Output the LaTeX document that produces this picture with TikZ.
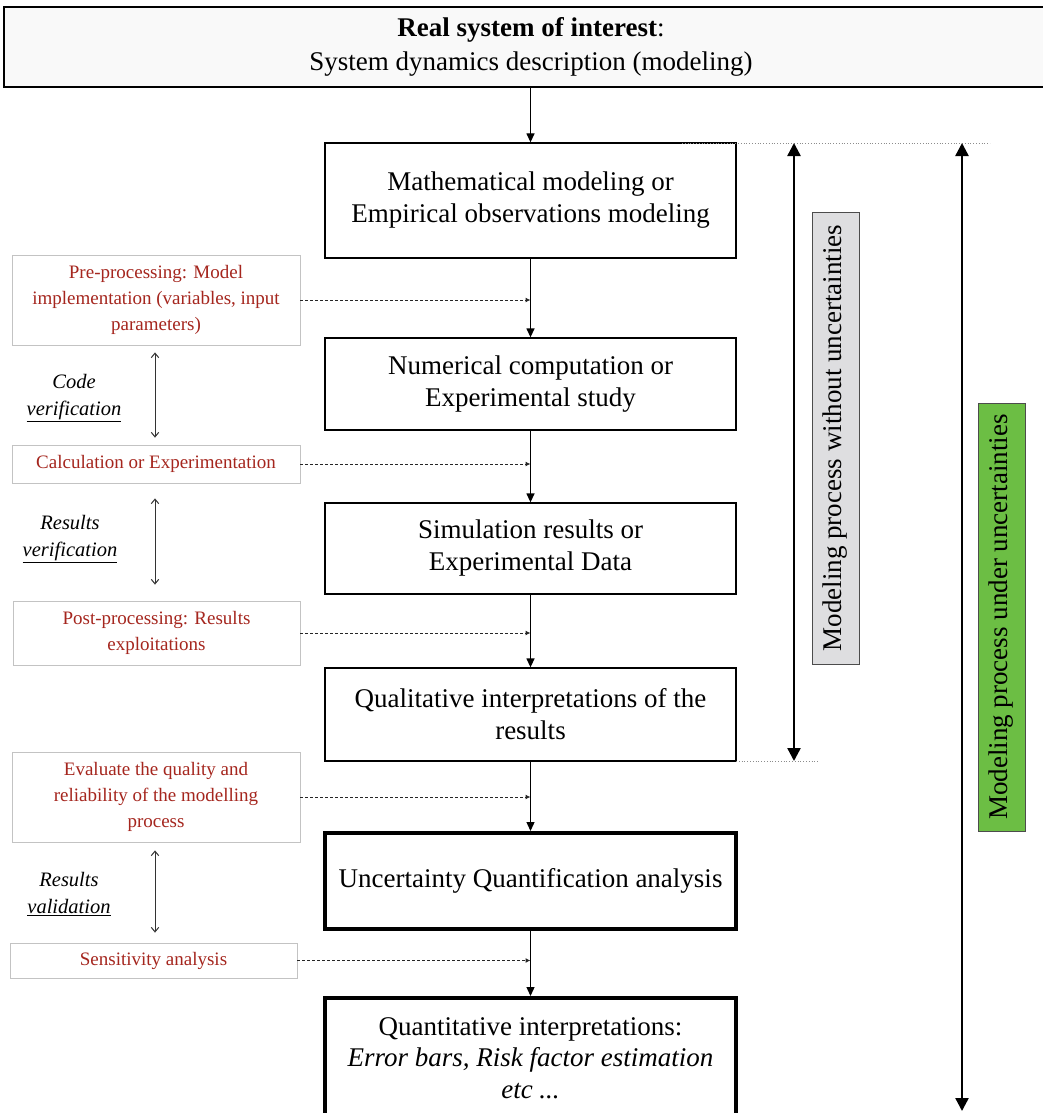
\documentclass[tikz,border=0pt]{standalone}
\usepackage{fontspec}
\setmainfont{Liberation Serif}
\usetikzlibrary{arrows.meta}
\definecolor{redtxt}{RGB}{165,38,30}
\definecolor{boxgray}{RGB}{195,195,195}
\definecolor{lblgray}{RGB}{222,222,224}
\definecolor{lblgreen}{RGB}{108,190,68}
\definecolor{topfill}{RGB}{249,249,249}
\begin{document}
\begin{tikzpicture}[x=1pt,y=-1pt,
 mainbox/.style={draw=black, line width=1.3pt, minimum width=411pt, inner sep=0pt, align=center, font=\fontsize{27}{32}\selectfont, fill=white},
 thickbox/.style={mainbox, line width=4pt},
 redbox/.style={draw=boxgray, line width=0.8pt, inner sep=0pt, align=center, text=redtxt, font=\fontsize{19}{26}\selectfont},
 note/.style={align=center, font=\fontsize{20.5}{27}\selectfont\itshape},
 flow/.style={line width=1.3pt, -{Triangle[length=9pt,width=8pt]}},
 link/.style={dash pattern=on 3pt off 2pt, line width=1pt, draw=black!85, -{Latex[length=5pt,width=5pt]}},
 check/.style={line width=1pt, draw=black!80, {Straight Barb[length=4.5pt,width=7.5pt]}-{Straight Barb[length=4.5pt,width=7.5pt]}},
 span/.style={line width=2.4pt, {Triangle[length=13pt,width=13pt]}-{Triangle[length=13pt,width=13pt]}},
 guide/.style={draw=black!45, line width=0.8pt, dotted},
 sidelabel/.style={draw=black!70, line width=1pt, rotate=90, inner sep=0pt, minimum height=47pt, font=\fontsize{27}{32}\selectfont}
]
\clip (0,0) rectangle (1043,1113);
\fill[white] (0,0) rectangle (1043,1113);

% top box
\node[draw=black, line width=1.3pt, fill=topfill, minimum width=1054pt, minimum height=80pt, inner sep=0pt, align=center, font=\fontsize{27}{34}\selectfont] (top) at (531,47) {\textbf{Real system of interest}:\\System dynamics description (modeling)};

% main column
\node[mainbox, minimum height=115pt] (math) at (530.5,200.5) {Mathematical modeling or\\Empirical observations modeling};
\node[mainbox, minimum height=92pt] (num) at (530.5,384) {Numerical computation or\\Experimental study};
\node[mainbox, minimum height=91pt] (sim) at (530.5,548.5) {Simulation results or\\Experimental Data};
\node[mainbox, minimum height=93pt] (qual) at (530.5,714.5) {Qualitative interpretations of the\\results};
\node[thickbox, minimum height=96pt] (uq) at (530.5,881) {Uncertainty Quantification analysis};
\node[thickbox, minimum height=120pt, font=\fontsize{27}{31.5}\selectfont] (quant) at (530.5,1058) {Quantitative interpretations:\\\textit{Error bars, Risk factor estimation}\\\textit{etc ...}};

\draw[flow] (math.north |- top.south) -- (math.north);
\draw[flow] (math) -- (num);
\draw[flow] (num) -- (sim);
\draw[flow] (sim) -- (qual);
\draw[flow] (qual) -- (uq);
\draw[flow] (uq) -- (quant);

% left red boxes
\node[redbox, minimum width=288pt, minimum height=90pt] (pre) at (156,300) {Pre-processing: Model\\implementation (variables, input\\parameters)};
\node[redbox, minimum width=288pt, minimum height=38pt] (calc) at (156,464) {Calculation or Experimentation};
\node[redbox, minimum width=287pt, minimum height=64pt] (post) at (156.5,633) {Post-processing: Results\\exploitations};
\node[redbox, minimum width=288pt, minimum height=90pt] (eval) at (156,797) {Evaluate the quality and\\reliability of the modelling\\process};
\node[redbox, minimum width=287pt, minimum height=35pt] (sens) at (153.5,960.5) {Sensitivity analysis};

\draw[link] (pre.east) -- (pre.east -| math.south);
\draw[link] (calc.east) -- (calc.east -| math.south);
\draw[link] (post.east) -- (post.east -| math.south);
\draw[link] (eval.east) -- (eval.east -| math.south);
\draw[link] (sens.east) -- (sens.east -| math.south);

% verification arrows and notes
\draw[check, shorten <=7pt, shorten >=7pt] ([xshift=-1pt]pre.south) -- ([xshift=-1pt]calc.north);
\draw[check, shorten <=15pt, shorten >=16pt] ([xshift=-1pt]calc.south) -- ([xshift=-1.5pt]post.north);
\draw[check, shorten <=8pt, shorten >=10pt] ([xshift=-1pt]eval.south) -- ([xshift=1.5pt]sens.north);

\node[note] (n1) at (74,398) {Code\\\underline{verification}};
\node[note] (n2) at (70,539) {Results\\\underline{verification}};
\node[note] (n3) at (69,894) {Results\\\underline{validation}};

% right side spans
\coordinate (s1a) at (794,143);
\coordinate (s1b) at (794,761);
\coordinate (s2a) at (962,143);
\coordinate (s2b) at (962,1111);
\coordinate (g1a) at (682,143);
\coordinate (g1b) at (990,143);
\coordinate (g2a) at (736,761);
\coordinate (g2b) at (818,761);
\draw[guide] (g1a) -- (g1b);
\draw[guide] (g2a) -- (g2b);
\draw[span] (s1a) -- (s1b);
\draw[span] (s2a) -- (s2b);

\node[sidelabel, fill=lblgray, minimum width=452pt] (lab1) at (835.5,438) {Modeling process without uncertainties};
\node[sidelabel, fill=lblgreen, minimum width=428pt] (lab2) at (1001.5,617) {Modeling process under uncertainties};
\end{tikzpicture}
\end{document}
